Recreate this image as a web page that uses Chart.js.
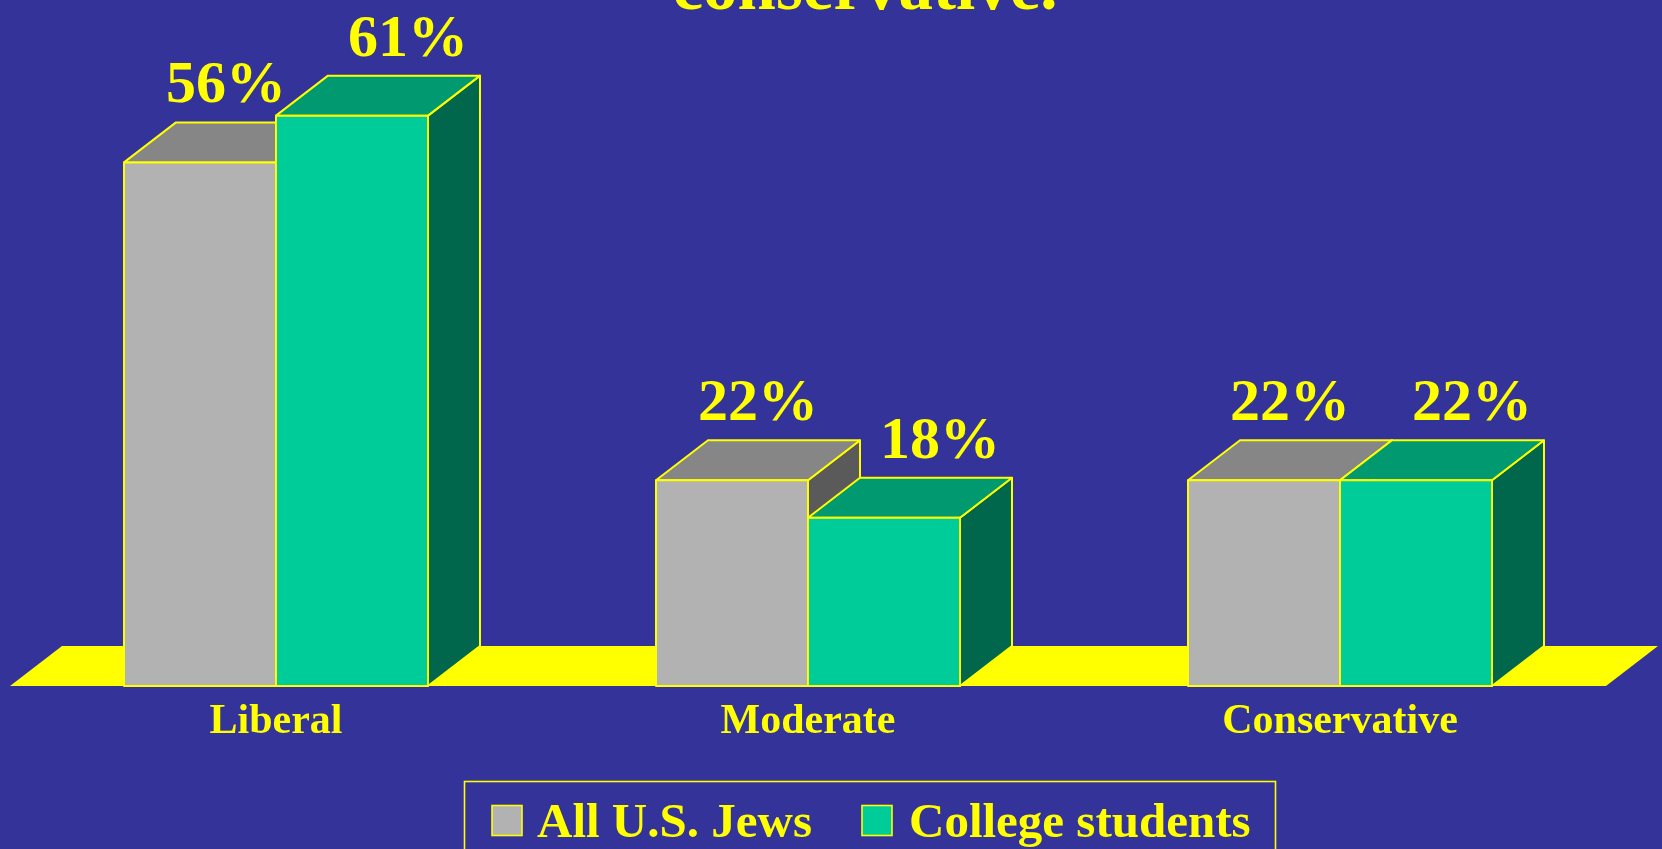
<!DOCTYPE html>
<html>
<head>
<meta charset="utf-8">
<script src="https://cdn.jsdelivr.net/npm/chart.js@4/dist/chart.umd.min.js"></script>
<style>
  html, body { margin: 0; padding: 0; background: #333399; }
  #wrap { position: relative; width: 1662px; height: 849px; overflow: hidden; }
</style>
</head>
<body>
<div id="wrap"><canvas id="c"></canvas></div>
<script>
// ---- data ----
const categories = ["Liberal", "Moderate", "Conservative"];
const seriesNames = ["All U.S. Jews", "College students"];
const allJews = [56, 22, 22];
const collegeStudents = [61, 18, 22];

// ---- styling ----
const YELLOW = "#FFFF00";
const BG = "#333399";
const FRONT = ["#B2B2B2", "#00CC99"];
const TOP = ["#868686", "#009970"];
const SIDE = ["#5A5A5A", "#00664C"];
const DX = 52, DY = -40;
const LABEL_SHIFT = [26, 56];
const SERIF = '"Liberation Serif", "Times New Roman", serif';

function poly(ctx, pts, fill) {
  ctx.beginPath();
  ctx.moveTo(pts[0][0], pts[0][1]);
  for (let i = 1; i < pts.length; i++) ctx.lineTo(pts[i][0], pts[i][1]);
  ctx.closePath();
  ctx.fillStyle = fill;
  ctx.fill();
  ctx.stroke();
}

const bgPlugin = {
  id: "bg",
  beforeDraw(chart) {
    const ctx = chart.ctx;
    ctx.save();
    ctx.fillStyle = BG;
    ctx.fillRect(0, 0, chart.width, chart.height);
    ctx.restore();
  }
};

const bars3d = {
  id: "bars3d",
  beforeDatasetsDraw(chart) {
    const ctx = chart.ctx;
    const a = chart.chartArea;
    ctx.save();
    // floor
    ctx.fillStyle = YELLOW;
    ctx.beginPath();
    ctx.moveTo(a.left, a.bottom);
    ctx.lineTo(a.right, a.bottom);
    ctx.lineTo(a.right + DX, a.bottom + DY);
    ctx.lineTo(a.left + DX, a.bottom + DY);
    ctx.closePath();
    ctx.fill();

    ctx.strokeStyle = YELLOW;
    ctx.lineWidth = 2;
    ctx.lineJoin = "round";
    const metas = chart.data.datasets.map((d, i) => chart.getDatasetMeta(i));
    for (let c = 0; c < categories.length; c++) {
      for (let d = 0; d < metas.length; d++) {
        const el = metas[d].data[c];
        const p = el.getProps(["x", "y", "base", "width"], true);
        const l = p.x - p.width / 2, r = p.x + p.width / 2, y = p.y, b = p.base;
        poly(ctx, [[r, b], [r, y], [r + DX, y + DY], [r + DX, b + DY]], SIDE[d]);
        poly(ctx, [[l, y], [r, y], [r + DX, y + DY], [l + DX, y + DY]], TOP[d]);
        poly(ctx, [[l, b], [r, b], [r, y], [l, y]], FRONT[d]);
      }
    }
    ctx.restore();
    return false;
  }
};

const textPlugin = {
  id: "texts",
  afterDraw(chart) {
    const ctx = chart.ctx;
    const a = chart.chartArea;
    const xs = chart.scales.x;
    ctx.save();
    ctx.fillStyle = YELLOW;
    ctx.textAlign = "center";
    ctx.textBaseline = "alphabetic";

    // title fragment (cut at top)
    ctx.font = "bold 69px " + SERIF;
    ctx.fillText("conservative.", 865, 9);

    // value labels
    ctx.font = "bold 60px " + SERIF;
    chart.data.datasets.forEach((ds, d) => {
      const meta = chart.getDatasetMeta(d);
      meta.data.forEach((el, i) => {
        const p = el.getProps(["x", "y"], true);
        ctx.fillText(ds.data[i] + "%", p.x + LABEL_SHIFT[d], p.y + DY - 20);
      });
    });

    // category labels
    ctx.font = "bold 42px " + SERIF;
    categories.forEach((cat, i) => {
      ctx.fillText(cat, xs.getPixelForValue(i), a.bottom + 47);
    });

    // legend
    ctx.strokeStyle = YELLOW;
    ctx.lineWidth = 1.6;
    ctx.strokeRect(464.5, 781.5, 811, 100);
    ctx.font = "bold 49px " + SERIF;
    ctx.textAlign = "left";
    const swX = [492, 862];
    const txX = [537, 909];
    seriesNames.forEach((name, d) => {
      ctx.fillStyle = FRONT[d];
      ctx.fillRect(swX[d], 805.5, 30, 30);
      ctx.strokeRect(swX[d], 805.5, 30, 30);
      ctx.fillStyle = YELLOW;
      ctx.fillText(name, txX[d], 836.5);
    });
    ctx.restore();
  }
};

new Chart(document.getElementById("c"), {
  type: "bar",
  data: {
    labels: categories,
    datasets: [
      { label: seriesNames[0], data: allJews, backgroundColor: FRONT[0], borderColor: YELLOW, borderWidth: 1 },
      { label: seriesNames[1], data: collegeStudents, backgroundColor: FRONT[1], borderColor: YELLOW, borderWidth: 1 }
    ]
  },
  options: {
    responsive: true,
    maintainAspectRatio: false,
    animation: false,
    layout: { padding: { left: 10, right: 56, top: 31.5, bottom: 163 } },
    datasets: { bar: { categoryPercentage: 0.5714, barPercentage: 1.0 } },
    scales: {
      x: { display: false },
      y: { display: false, min: 0, max: 70 }
    },
    plugins: {
      legend: { display: false },
      tooltip: { enabled: false },
      title: { display: false }
    }
  },
  plugins: [bgPlugin, bars3d, textPlugin]
});
</script>
</body>
</html>
